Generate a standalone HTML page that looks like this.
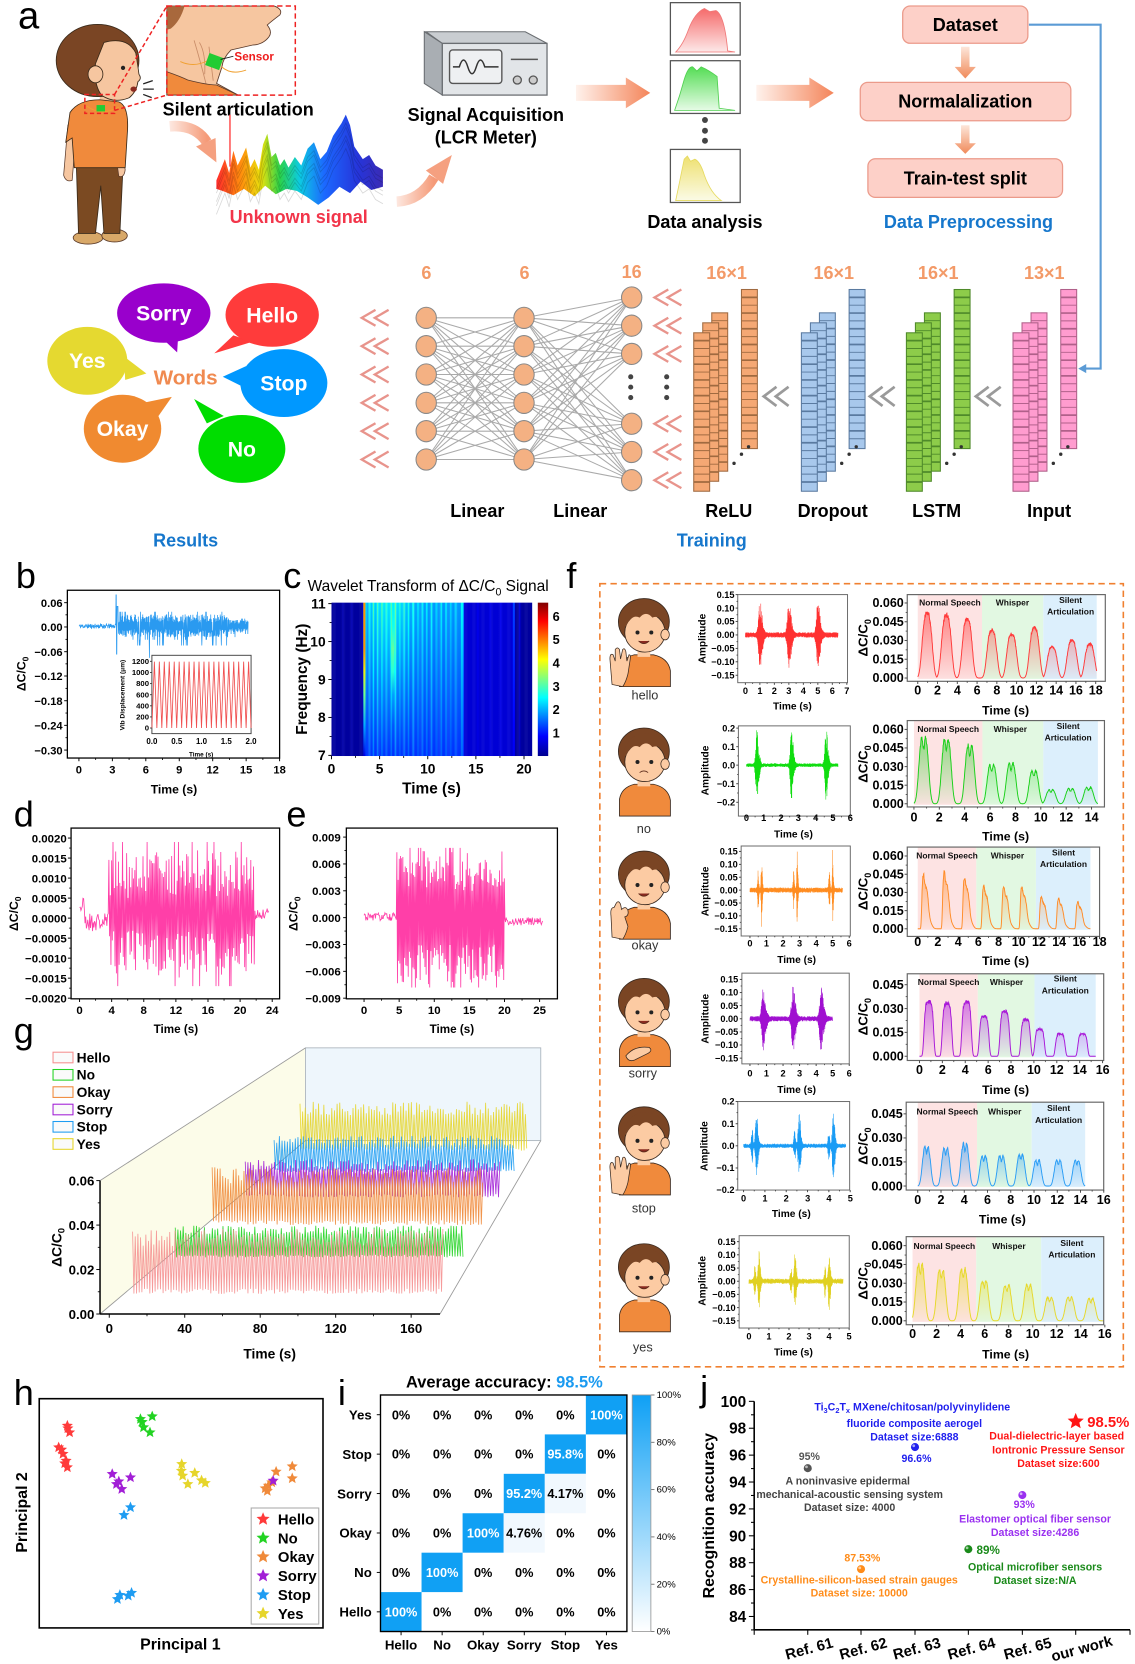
<!DOCTYPE html>
<html><head><meta charset="utf-8">
<style>
html,body{margin:0;padding:0;background:#fff;width:1135px;height:1664px;overflow:hidden;}
svg{display:block;font-family:"Liberation Sans",Arial,sans-serif;}
.b{font-weight:bold}
</style></head><body>
<svg id="S" width="1135" height="1664" viewBox="0 0 1070 1568" preserveAspectRatio="none" xmlns="http://www.w3.org/2000/svg">
<defs id="defs">
<linearGradient id="ag" x1="0" y1="0" x2="1" y2="0"><stop offset="0" stop-color="#fff2ec"/><stop offset="1" stop-color="#f4855a"/></linearGradient>
<linearGradient id="agd" x1="0" y1="0" x2="0" y2="1"><stop offset="0" stop-color="#fde6da"/><stop offset="1" stop-color="#f08a5a"/></linearGradient>
<linearGradient id="agc" x1="0" y1="0" x2="1" y2="0"><stop offset="0" stop-color="#fde8e0"/><stop offset="1" stop-color="#f59a78"/></linearGradient>
<linearGradient id="rain" x1="0" y1="0" x2="1" y2="0"><stop offset="0" stop-color="#ff2020"/><stop offset="0.15" stop-color="#ff8a00"/><stop offset="0.27" stop-color="#e8e000"/><stop offset="0.38" stop-color="#20d040"/><stop offset="0.5" stop-color="#00c8e0"/><stop offset="0.65" stop-color="#1060ff"/><stop offset="0.85" stop-color="#1a2ad8"/><stop offset="1" stop-color="#3020b0"/></linearGradient>
<linearGradient id="thR" x1="0" y1="0" x2="0" y2="1"><stop offset="0" stop-color="#f56a6a"/><stop offset="1" stop-color="#fde8e8"/></linearGradient>
<linearGradient id="thG" x1="0" y1="0" x2="0" y2="1"><stop offset="0" stop-color="#55dd55"/><stop offset="1" stop-color="#e6fbe6"/></linearGradient>
<linearGradient id="thY" x1="0" y1="0" x2="0" y2="1"><stop offset="0" stop-color="#eee070"/><stop offset="1" stop-color="#fbfbe6"/></linearGradient>
<linearGradient id="jet" x1="0" y1="0" x2="0" y2="1"><stop offset="0" stop-color="#800000"/><stop offset="0.12" stop-color="#ff0000"/><stop offset="0.37" stop-color="#ffff00"/><stop offset="0.62" stop-color="#00ffff"/><stop offset="0.87" stop-color="#0000ff"/><stop offset="1" stop-color="#00008f"/></linearGradient>
<linearGradient id="cbi" x1="0" y1="0" x2="0" y2="1"><stop offset="0" stop-color="#0ea0f5"/><stop offset="1" stop-color="#ffffff"/></linearGradient>
<linearGradient id="gR" x1="0" y1="0" x2="0" y2="1"><stop offset="0" stop-color="#ff3a3a" stop-opacity="0.55"/><stop offset="1" stop-color="#ff3a3a" stop-opacity="0.03"/></linearGradient>
<linearGradient id="gG" x1="0" y1="0" x2="0" y2="1"><stop offset="0" stop-color="#20d020" stop-opacity="0.5"/><stop offset="1" stop-color="#20d020" stop-opacity="0.03"/></linearGradient>
<linearGradient id="gO" x1="0" y1="0" x2="0" y2="1"><stop offset="0" stop-color="#ff9030" stop-opacity="0.55"/><stop offset="1" stop-color="#ff9030" stop-opacity="0.03"/></linearGradient>
<linearGradient id="gP" x1="0" y1="0" x2="0" y2="1"><stop offset="0" stop-color="#b020e0" stop-opacity="0.55"/><stop offset="1" stop-color="#b020e0" stop-opacity="0.03"/></linearGradient>
<linearGradient id="gB" x1="0" y1="0" x2="0" y2="1"><stop offset="0" stop-color="#2a9df5" stop-opacity="0.55"/><stop offset="1" stop-color="#2a9df5" stop-opacity="0.03"/></linearGradient>
<linearGradient id="gY" x1="0" y1="0" x2="0" y2="1"><stop offset="0" stop-color="#e8dc30" stop-opacity="0.6"/><stop offset="1" stop-color="#e8dc30" stop-opacity="0.04"/></linearGradient>
</defs>

<!-- ============ PANEL A ============ -->
<text x="17" y="27" font-size="36">a</text>
<g id="boyA"></g>
<!-- small dashed box & connectors -->
<rect x="80" y="89" width="28" height="17.8" fill="none" stroke="#ee2222" stroke-width="1.4" stroke-dasharray="4,2.5"/>
<line x1="108" y1="89" x2="157.3" y2="5.7" stroke="#ee2222" stroke-width="1.4" stroke-dasharray="4,2.5"/>
<line x1="108" y1="104" x2="157.3" y2="89.6" stroke="#ee2222" stroke-width="1.4" stroke-dasharray="4,2.5"/>
<!-- inset -->
<rect x="157.3" y="5.7" width="121.1" height="83.9" fill="#fff"/>
<path d="M157.3,5.7 L258.7,5.7 Q267,9 263.8,14.1 Q256,20 251.9,23.6 Q257,30 253.6,34.6 Q248,42 238.3,42.4 L217.8,47.1 Q210,55 209.3,62.9 L204.2,78.6 L224.6,89.6 L157.3,89.6 Z" fill="#f6c6a0" stroke="#5a3a2a" stroke-width="0.8"/>
<path d="M157.3,5.7 L174,5.7 Q170,20 161,27 L157.3,28 Z" fill="#a8683c"/>
<path d="M183,38 Q189,58 195,82 M197,44 Q199,60 201,76 M188,40 Q194,50 193,70" stroke="#c88c68" fill="none" stroke-width="0.8"/>
<path d="M157.3,67.6 Q170,72 177,75.4 Q195,80 204.2,80.1 L224.6,89.6 L157.3,89.6 Z" fill="#f08a3c" stroke="#5a3a2a" stroke-width="0.8"/>
<path d="M170,58 Q183,64 196,57 M209,63 Q218,71 232,66" stroke="#f0a030" fill="none" stroke-width="0.9"/>
<rect x="195" y="52" width="14" height="12" fill="#22cc33" transform="rotate(20 202 58)"/>
<line x1="208" y1="56" x2="220" y2="53" stroke="#111" stroke-width="0.8"/>
<rect x="157.3" y="5.7" width="121.1" height="83.9" fill="none" stroke="#ee2222" stroke-width="1.4" stroke-dasharray="5,3"/>
<text x="221" y="57" font-size="11" class="b" fill="#ee1c1c">Sensor</text>
<text x="224.5" y="109" font-size="17" class="b" text-anchor="middle">Silent articulation</text>
<!-- curved arrows -->
<path d="M160,119 Q184,117 195,134" fill="none" stroke="url(#agc)" stroke-width="10"/>
<polygon points="203.2,130 184.8,138 204,153" fill="#f5a080"/>
<path d="M374,190 Q396,189 409,167" fill="none" stroke="url(#agc)" stroke-width="10"/>
<polygon points="417.7,173.3 401.5,160.7 426,146" fill="#f5a080"/>
<!-- unknown signal -->
<g id="wave"></g>
<line x1="216.8" y1="108" x2="216.8" y2="157" stroke="#ff4040" stroke-width="1.3"/>
<text x="281.6" y="210" font-size="17" class="b" text-anchor="middle" fill="#f2354a">Unknown signal</text>
<!-- LCR meter -->
<polygon points="401.6,29.9 495.2,29.9 515.7,40.9 417,40.9" fill="#c9cdd1" stroke="#6a6e72" stroke-width="1"/>
<polygon points="400,29.9 417,40.9 417,89.6 400,78.6" fill="#a9aeb3" stroke="#6a6e72" stroke-width="1"/>
<rect x="417" y="40.9" width="98.7" height="48.7" fill="#e2e5e8" stroke="#6a6e72" stroke-width="1.2"/>
<rect x="423.8" y="47.1" width="49.3" height="31.5" rx="3" fill="#eef0f2" stroke="#555" stroke-width="1.3"/>
<path d="M427,63 L433,63 Q437,50 441,63 Q445,76 449,63 Q453,50 457,63 L470,63" fill="none" stroke="#333" stroke-width="1.4"/>
<line x1="481.6" y1="55.9" x2="507.1" y2="55.9" stroke="#555" stroke-width="1.4"/>
<circle cx="487.7" cy="75.4" r="3.8" fill="#ccc" stroke="#555" stroke-width="1.2"/>
<circle cx="502.7" cy="75.4" r="3.8" fill="#ccc" stroke="#555" stroke-width="1.2"/>
<text x="458" y="114" font-size="17" class="b" text-anchor="middle">Signal Acquisition</text>
<text x="458" y="135" font-size="17" class="b" text-anchor="middle">(LCR Meter)</text>
<!-- big arrows -->
<path d="M543,80 L590,80 L590,73 L613,87.5 L590,102 L590,95 L543,95 Z" fill="url(#ag)"/>
<path d="M713,80 L763,80 L763,73 L786,87.5 L763,102 L763,95 L713,95 Z" fill="url(#ag)"/>
<!-- thumbnails -->
<rect x="632" y="2.5" width="65.8" height="49.4" fill="#fff" stroke="#555" stroke-width="1.2"/>
<path d="M637,49 Q644,42 649,28 Q655,12 664,8 L669,11 L675,10 Q683,14 686,48 L693,49 Z" fill="url(#thR)" stroke="#f07878" stroke-width="0.8"/>
<rect x="632" y="57.2" width="65.8" height="49.7" fill="#fff" stroke="#555" stroke-width="1.2"/>
<path d="M636,104 Q641,90 645,75 Q649,62 653,63 L657,67 L661,63 Q668,66 676,72 L678,102 L693,104 Z" fill="url(#thG)" stroke="#50d050" stroke-width="0.8"/>
<circle cx="664.6" cy="113.1" r="2.8" fill="#444"/><circle cx="664.6" cy="123.2" r="2.8" fill="#444"/><circle cx="664.6" cy="132.6" r="2.8" fill="#444"/>
<rect x="632" y="140.8" width="65.8" height="50" fill="#fff" stroke="#555" stroke-width="1.2"/>
<path d="M637,189 Q641,170 645,150 L648,147 L651,152 L655,150 Q660,152 664,165 Q670,182 680,189 Z" fill="url(#thY)" stroke="#e6da60" stroke-width="0.8"/>
<text x="664.6" y="215" font-size="17" class="b" text-anchor="middle">Data analysis</text>
<!-- preprocessing -->
<rect x="851" y="5.7" width="118" height="35.1" rx="7" fill="#fdd0c8" stroke="#eb9a8a" stroke-width="1.2"/>
<text x="910" y="29.3" font-size="17" class="b" text-anchor="middle">Dataset</text>
<path d="M906,44 L914,44 L914,63 L920,63 L910,74 L900,63 L906,63 Z" fill="url(#agd)"/>
<rect x="811" y="77.6" width="198.5" height="36.2" rx="7" fill="#fdd0c8" stroke="#eb9a8a" stroke-width="1.2"/>
<text x="910" y="101.5" font-size="17" class="b" text-anchor="middle">Normalalization</text>
<path d="M906,118 L914,118 L914,135 L920,135 L910,145 L900,135 L906,135 Z" fill="url(#agd)"/>
<rect x="818.2" y="149.6" width="183.5" height="36.4" rx="7" fill="#fdd0c8" stroke="#eb9a8a" stroke-width="1.2"/>
<text x="910" y="173.8" font-size="17" class="b" text-anchor="middle">Train-test split</text>
<text x="913" y="215" font-size="17" class="b" text-anchor="middle" fill="#1677cc">Data Preprocessing</text>
<polyline points="970,23.3 1037.6,23.3 1037.6,347.3 1019,347.3" fill="none" stroke="#5b9bd5" stroke-width="2"/>
<polygon points="1016.5,347.3 1024,343 1024,351.6" fill="#5b9bd5"/>

<!-- row 2 -->
<g font-size="17" class="b" fill="#f39a68" text-anchor="middle">
<text x="402" y="263">6</text><text x="494.5" y="263">6</text><text x="595.5" y="262">16</text>
<text x="685" y="263">16×1</text><text x="786" y="263">16×1</text><text x="884.5" y="263">16×1</text><text x="984.5" y="263">13×1</text>
</g>
<!-- bubbles -->
<polygon points="152,318 168,316 167,332" fill="#9900cc"/>
<ellipse cx="154.4" cy="295" rx="44" ry="28" fill="#9900cc"/>
<polygon points="220,316 238,322 202,333" fill="#ff3b3b"/>
<ellipse cx="256.6" cy="296.7" rx="44" ry="30" fill="#ff3b3b"/>
<polygon points="117,336 118,358 138,352" fill="#e5d930"/>
<ellipse cx="82.3" cy="340" rx="37.7" ry="32" fill="#e5d930"/>
<polygon points="232,345 232,366 210,355" fill="#0098ff"/>
<ellipse cx="267.6" cy="361" rx="41" ry="32" fill="#0098ff"/>
<polygon points="133,380 148,394 162,374" fill="#f08a30"/>
<ellipse cx="115.5" cy="404" rx="36.5" ry="32" fill="#f08a30"/>
<polygon points="195,399 211,392 183,376" fill="#00dd00"/>
<ellipse cx="228" cy="423" rx="41" ry="32" fill="#00dd00"/>
<g font-size="20" class="b" fill="#fff" text-anchor="middle">
<text x="154.4" y="302">Sorry</text><text x="256.6" y="304">Hello</text><text x="82.3" y="347">Yes</text>
<text x="267.6" y="368">Stop</text><text x="115.5" y="411">Okay</text><text x="228" y="430">No</text>
</g>
<text x="175" y="362.5" font-size="19.5" class="b" fill="#f08a50" text-anchor="middle">Words</text>
<g id="net"></g>
<g font-size="17" class="b" text-anchor="middle">
<text x="450" y="487">Linear</text><text x="547" y="487">Linear</text><text x="687" y="487">ReLU</text>
<text x="785" y="487">Dropout</text><text x="883" y="487">LSTM</text><text x="989" y="487">Input</text>
</g>
<text x="175" y="515" font-size="17" class="b" fill="#1677cc" text-anchor="middle">Results</text>
<text x="671" y="515" font-size="17" class="b" fill="#1677cc" text-anchor="middle">Training</text>

<!-- ============ PANEL B ============ -->
<text x="15" y="554" font-size="34">b</text>
<rect x="63.5" y="556.2" width="200.1" height="158.1" fill="#fff" stroke="#000" stroke-width="1.2"/>
<g id="pb"></g>
<g font-size="10.5" class="b" text-anchor="end">
<text x="59" y="571.9">0.06</text><text x="59" y="594.8">0.00</text><text x="59" y="618.1">−0.06</text><text x="59" y="641">−0.12</text><text x="59" y="664.3">−0.18</text><text x="59" y="687.5">−0.24</text><text x="59" y="710.8">−0.30</text>
</g>
<g font-size="10.5" class="b" text-anchor="middle">
<text x="74.4" y="729">0</text><text x="105.9" y="729">3</text><text x="137.5" y="729">6</text><text x="169" y="729">9</text><text x="200.5" y="729">12</text><text x="232" y="729">15</text><text x="263.6" y="729">18</text>
</g>
<text x="164" y="747.5" font-size="11.5" class="b" text-anchor="middle">Time (s)</text>
<text transform="translate(24,635) rotate(-90)" font-size="11.5" class="b" text-anchor="middle">ΔC/C<tspan dy="3" font-size="8">0</tspan></text>
<rect x="143.2" y="617.5" width="93.5" height="73.8" fill="#fff" stroke="#444" stroke-width="0.9"/>
<g id="pbi"></g>
<g font-size="7.3" class="b" text-anchor="end">
<text x="140.5" y="625.7">1200</text><text x="140.5" y="636.2">1000</text><text x="140.5" y="646.6">800</text><text x="140.5" y="657.1">600</text><text x="140.5" y="667.6">400</text><text x="140.5" y="678">200</text><text x="140.5" y="688.5">0</text>
</g>
<g font-size="7.5" class="b" text-anchor="middle">
<text x="143.2" y="701">0.0</text><text x="166.6" y="701">0.5</text><text x="190" y="701">1.0</text><text x="213.3" y="701">1.5</text><text x="236.7" y="701">2.0</text>
</g>
<text x="189.6" y="713" font-size="6" class="b" text-anchor="middle">Time (s)</text>
<text transform="translate(117.5,655) rotate(-90)" font-size="6.2" class="b" text-anchor="middle">Vib Displacement (μm)</text>

<!-- ============ PANEL C ============ -->
<text x="267" y="554" font-size="34">c</text>
<text x="290" y="557" font-size="14.6">Wavelet Transform of ΔC/C<tspan dy="4" font-size="10">0</tspan><tspan dy="-4"> Signal</tspan></text>
<g id="hm"></g>
<rect x="507" y="567.9" width="9.8" height="144.5" fill="url(#jet)"/>
<g font-size="12" class="b">
<text x="521" y="585">6</text><text x="521" y="607">5</text><text x="521" y="629">4</text><text x="521" y="651">3</text><text x="521" y="673">2</text><text x="521" y="695">1</text>
</g>
<g font-size="13" class="b" text-anchor="end">
<text x="307" y="573.5">11</text><text x="307" y="609">10</text><text x="307" y="645">9</text><text x="307" y="680.5">8</text><text x="307" y="716">7</text>
</g>
<g font-size="13" class="b" text-anchor="middle">
<text x="312.5" y="729">0</text><text x="357.9" y="729">5</text><text x="403.3" y="729">10</text><text x="448.6" y="729">15</text><text x="494" y="729">20</text>
</g>
<text x="406.8" y="747.5" font-size="14.5" class="b" text-anchor="middle">Time (s)</text>
<text transform="translate(289.5,640) rotate(-90)" font-size="14.5" class="b" text-anchor="middle">Frequency (Hz)</text>

<!-- ============ PANEL D ============ -->
<text x="13" y="779" font-size="34">d</text>
<rect x="67" y="780.3" width="196.6" height="160.9" fill="#fff" stroke="#000" stroke-width="1.2"/>
<g id="pd"></g>
<g font-size="10.8" class="b" text-anchor="end">
<text x="62.9" y="793.7">0.0020</text><text x="62.9" y="812.6">0.0015</text><text x="62.9" y="831.4">0.0010</text><text x="62.9" y="850.3">0.0005</text><text x="62.9" y="869.2">0.0000</text><text x="62.9" y="888">−0.0005</text><text x="62.9" y="906.9">−0.0010</text><text x="62.9" y="925.7">−0.0015</text><text x="62.9" y="944.6">−0.0020</text>
</g>
<g font-size="10.8" class="b" text-anchor="middle">
<text x="75" y="955.5">0</text><text x="105.3" y="955.5">4</text><text x="135.5" y="955.5">8</text><text x="165.8" y="955.5">12</text><text x="196.1" y="955.5">16</text><text x="226.4" y="955.5">20</text><text x="256.6" y="955.5">24</text>
</g>
<text x="165.8" y="973.5" font-size="11" class="b" text-anchor="middle">Time (s)</text>
<text transform="translate(17,861) rotate(-90)" font-size="11.5" class="b" text-anchor="middle">ΔC/C<tspan dy="3" font-size="8">0</tspan></text>

<!-- ============ PANEL E ============ -->
<text x="270" y="779" font-size="34">e</text>
<rect x="326.5" y="780.3" width="199" height="160.9" fill="#fff" stroke="#000" stroke-width="1.2"/>
<g id="pe"></g>
<g font-size="10.8" class="b" text-anchor="end">
<text x="321.2" y="792.8">0.009</text><text x="321.2" y="818.1">0.006</text><text x="321.2" y="843.4">0.003</text><text x="321.2" y="868.7">0.000</text><text x="321.2" y="894">−0.003</text><text x="321.2" y="919.3">−0.006</text><text x="321.2" y="944.6">−0.009</text>
</g>
<g font-size="10.8" class="b" text-anchor="middle">
<text x="343.2" y="955.5">0</text><text x="376.3" y="955.5">5</text><text x="409.4" y="955.5">10</text><text x="442.5" y="955.5">15</text><text x="475.6" y="955.5">20</text><text x="508.7" y="955.5">25</text>
</g>
<text x="426" y="973.5" font-size="11" class="b" text-anchor="middle">Time (s)</text>
<text transform="translate(280.5,861) rotate(-90)" font-size="11.5" class="b" text-anchor="middle">ΔC/C<tspan dy="3" font-size="8">0</tspan></text>

<!-- ============ PANEL F ============ -->
<text x="534" y="554" font-size="34">f</text>
<rect x="565.5" y="550" width="493.5" height="738" fill="none" stroke="#f08030" stroke-width="1.5" stroke-dasharray="6,4"/>
<g id="pf"></g>
<g font-size="12" fill="#333" text-anchor="middle">
<text x="608" y="659">hello</text><text x="607" y="785">no</text><text x="608" y="894.5">okay</text><text x="606" y="1015.5">sorry</text><text x="607" y="1142.5">stop</text><text x="606" y="1273.5">yes</text>
</g>
<!-- mid tick labels -->
<g font-size="8.7" class="b" text-anchor="end">
<text x="692.5" y="563.3">0.15</text><text x="692.5" y="576">0.10</text><text x="692.5" y="588.6">0.05</text><text x="692.5" y="601.3">0.00</text><text x="692.5" y="614">−0.05</text><text x="692.5" y="626.6">−0.10</text><text x="692.5" y="639.3">−0.15</text>
<text x="693" y="689.1">0.2</text><text x="693" y="706.6">0.1</text><text x="693" y="724">0.0</text><text x="693" y="741.5">−0.1</text><text x="693" y="759">−0.2</text>
<text x="695.5" y="805.3">0.15</text><text x="695.5" y="817.5">0.10</text><text x="695.5" y="829.6">0.05</text><text x="695.5" y="841.8">0.00</text><text x="695.5" y="853.9">−0.05</text><text x="695.5" y="866">−0.10</text><text x="695.5" y="878.2">−0.15</text>
<text x="696" y="925.9">0.15</text><text x="696" y="938.3">0.10</text><text x="696" y="950.6">0.05</text><text x="696" y="963">0.00</text><text x="696" y="975.4">−0.05</text><text x="696" y="987.7">−0.10</text><text x="696" y="1000.1">−0.15</text>
<text x="692.5" y="1041">0.2</text><text x="692.5" y="1061.9">0.1</text><text x="692.5" y="1082.7">0.0</text><text x="692.5" y="1103.6">−0.1</text><text x="692.5" y="1124.4">−0.2</text>
<text x="693.5" y="1173">0.15</text><text x="693.5" y="1185.4">0.10</text><text x="693.5" y="1197.9">0.05</text><text x="693.5" y="1210.3">0.00</text><text x="693.5" y="1222.7">−0.05</text><text x="693.5" y="1235.2">−0.10</text><text x="693.5" y="1247.6">−0.15</text>
</g>
<g font-size="8.7" class="b" text-anchor="middle">
<text x="702.7" y="654">0</text><text x="716.4" y="654">1</text><text x="730" y="654">2</text><text x="743.7" y="654">3</text><text x="757.3" y="654">4</text><text x="771" y="654">5</text><text x="784.7" y="654">6</text><text x="798.3" y="654">7</text>
<text x="703.7" y="773.5">0</text><text x="720" y="773.5">1</text><text x="736.3" y="773.5">2</text><text x="752.6" y="773.5">3</text><text x="769" y="773.5">4</text><text x="785.3" y="773.5">5</text><text x="801.6" y="773.5">6</text>
<text x="707" y="892">0</text><text x="722.6" y="892">1</text><text x="738.2" y="892">2</text><text x="753.8" y="892">3</text><text x="769.4" y="892">4</text><text x="785" y="892">5</text><text x="800.6" y="892">6</text>
<text x="707" y="1014.5">0</text><text x="722.6" y="1014.5">1</text><text x="738.2" y="1014.5">2</text><text x="753.8" y="1014.5">3</text><text x="769.4" y="1014.5">4</text><text x="785" y="1014.5">5</text><text x="800.6" y="1014.5">6</text>
<text x="701" y="1132">0</text><text x="721.1" y="1132">1</text><text x="741.2" y="1132">2</text><text x="761.4" y="1132">3</text><text x="781.5" y="1132">4</text><text x="801.6" y="1132">5</text>
<text x="706" y="1262">0</text><text x="724.9" y="1262">1</text><text x="743.8" y="1262">2</text><text x="762.7" y="1262">3</text><text x="781.6" y="1262">4</text><text x="800.5" y="1262">5</text>
</g>
<g font-size="9.6" class="b" text-anchor="middle">
<text x="747" y="668.5">Time (s)</text><text x="748" y="789">Time (s)</text><text x="751" y="907.5">Time (s)</text><text x="751" y="1030">Time (s)</text><text x="746" y="1147">Time (s)</text><text x="748" y="1277.5">Time (s)</text>
<text transform="translate(665,601.8) rotate(-90)">Amplitude</text>
<text transform="translate(668,726) rotate(-90)">Amplitude</text>
<text transform="translate(668,840) rotate(-90)">Amplitude</text>
<text transform="translate(668,960) rotate(-90)">Amplitude</text>
<text transform="translate(667,1080) rotate(-90)">Amplitude</text>
<text transform="translate(665,1207) rotate(-90)">Amplitude</text>
</g>
<!-- right tick labels -->
<g font-size="11.8" class="b" text-anchor="end">
<text x="852" y="572.2">0.060</text><text x="852" y="589.9">0.045</text><text x="852" y="607.5">0.030</text><text x="852" y="625.2">0.015</text><text x="852" y="642.9">0.000</text>
<text x="852" y="691.3">0.060</text><text x="852" y="708.8">0.045</text><text x="852" y="726.4">0.030</text><text x="852" y="743.9">0.015</text><text x="852" y="761.4">0.000</text>
<text x="852" y="810.6">0.060</text><text x="852" y="827.8">0.045</text><text x="852" y="844.9">0.030</text><text x="852" y="862.1">0.015</text><text x="852" y="879.2">0.000</text>
<text x="852" y="931.9">0.045</text><text x="852" y="954.4">0.030</text><text x="852" y="976.8">0.015</text><text x="852" y="999.3">0.000</text>
<text x="851" y="1053.6">0.045</text><text x="851" y="1076.3">0.030</text><text x="851" y="1098.9">0.015</text><text x="851" y="1121.6">0.000</text>
<text x="851" y="1177.8">0.060</text><text x="851" y="1195.5">0.045</text><text x="851" y="1213.2">0.030</text><text x="851" y="1230.9">0.015</text><text x="851" y="1248.6">0.000</text>
</g>
<g font-size="11.8" class="b" text-anchor="middle">
<text x="865.2" y="654.5">0</text><text x="883.8" y="654.5">2</text><text x="902.5" y="654.5">4</text><text x="921.1" y="654.5">6</text><text x="939.8" y="654.5">8</text><text x="958.4" y="654.5">10</text><text x="977" y="654.5">12</text><text x="995.7" y="654.5">14</text><text x="1014.3" y="654.5">16</text><text x="1033" y="654.5">18</text>
<text x="861.6" y="774">0</text><text x="885.5" y="774">2</text><text x="909.5" y="774">4</text><text x="933.4" y="774">6</text><text x="957.3" y="774">8</text><text x="981.2" y="774">10</text><text x="1005.2" y="774">12</text><text x="1029.1" y="774">14</text>
<text x="865.2" y="891.5">0</text><text x="884.2" y="891.5">2</text><text x="903.3" y="891.5">4</text><text x="922.3" y="891.5">6</text><text x="941.4" y="891.5">8</text><text x="960.4" y="891.5">10</text><text x="979.5" y="891.5">12</text><text x="998.5" y="891.5">14</text><text x="1017.6" y="891.5">16</text><text x="1036.6" y="891.5">18</text>
<text x="866.8" y="1012">0</text><text x="888.4" y="1012">2</text><text x="910" y="1012">4</text><text x="931.6" y="1012">6</text><text x="953.1" y="1012">8</text><text x="974.7" y="1012">10</text><text x="996.3" y="1012">12</text><text x="1017.9" y="1012">14</text><text x="1039.5" y="1012">16</text>
<text x="865.2" y="1134.5">0</text><text x="887.1" y="1134.5">2</text><text x="909" y="1134.5">4</text><text x="930.9" y="1134.5">6</text><text x="952.9" y="1134.5">8</text><text x="974.8" y="1134.5">10</text><text x="996.7" y="1134.5">12</text><text x="1018.6" y="1134.5">14</text><text x="1040.5" y="1134.5">16</text>
<text x="860.3" y="1261">0</text><text x="883" y="1261">2</text><text x="905.6" y="1261">4</text><text x="928.3" y="1261">6</text><text x="950.9" y="1261">8</text><text x="973.6" y="1261">10</text><text x="996.2" y="1261">12</text><text x="1018.9" y="1261">14</text><text x="1041.5" y="1261">16</text>
</g>
<g font-size="11.6" class="b" text-anchor="middle">
<text x="948" y="673.5">Time (s)</text><text x="948" y="792">Time (s)</text><text x="948" y="909.5">Time (s)</text><text x="948" y="1031">Time (s)</text><text x="945" y="1153">Time (s)</text><text x="948" y="1280">Time (s)</text>
</g>
<g font-size="12.5" class="b" text-anchor="middle">
<text transform="translate(818,601) rotate(-90)">ΔC/C<tspan dy="3" font-size="8.5">0</tspan></text>
<text transform="translate(818,720) rotate(-90)">ΔC/C<tspan dy="3" font-size="8.5">0</tspan></text>
<text transform="translate(818,840) rotate(-90)">ΔC/C<tspan dy="3" font-size="8.5">0</tspan></text>
<text transform="translate(818,958) rotate(-90)">ΔC/C<tspan dy="3" font-size="8.5">0</tspan></text>
<text transform="translate(818,1080) rotate(-90)">ΔC/C<tspan dy="3" font-size="8.5">0</tspan></text>
<text transform="translate(818,1207) rotate(-90)">ΔC/C<tspan dy="3" font-size="8.5">0</tspan></text>
</g>
<g id="pfl" font-size="8" class="b" fill="#111" text-anchor="middle">
<text x="895.5" y="570.5">Normal Speech</text><text x="954.5" y="570.5">Whisper</text><text x="1009.3" y="568">Silent</text><text x="1009.3" y="579">Articulation</text>
<text x="893.9" y="690">Normal Speech</text><text x="952.5" y="690">Whisper</text><text x="1007" y="687">Silent</text><text x="1007" y="698">Articulation</text>
<text x="892.8" y="809">Normal Speech</text><text x="949.8" y="809">Whisper</text><text x="1002.6" y="806">Silent</text><text x="1002.6" y="817">Articulation</text>
<text x="894.3" y="928">Normal Speech</text><text x="948.9" y="928">Whisper</text><text x="1004.3" y="925">Silent</text><text x="1004.3" y="936">Articulation</text>
<text x="893.1" y="1050">Normal Speech</text><text x="947.2" y="1050">Whisper</text><text x="998" y="1047">Silent</text><text x="998" y="1058">Articulation</text>
<text x="890.3" y="1177">Normal Speech</text><text x="951.2" y="1177">Whisper</text><text x="1010.5" y="1174">Silent</text><text x="1010.5" y="1185">Articulation</text>
</g>

<!-- ============ PANEL G ============ -->
<text x="13" y="983" font-size="34">g</text>
<g id="pgl">
<rect x="50" y="991.5" width="18.8" height="10" fill="#fafafa" stroke="#f59090" stroke-width="1"/>
<rect x="50" y="1007.8" width="18.8" height="10" fill="#fafafa" stroke="#22d322" stroke-width="1"/>
<rect x="50" y="1024.1" width="18.8" height="10" fill="#fafafa" stroke="#f08a3a" stroke-width="1"/>
<rect x="50" y="1040.5" width="18.8" height="10" fill="#fafafa" stroke="#a21fd6" stroke-width="1"/>
<rect x="50" y="1056.8" width="18.8" height="10" fill="#fafafa" stroke="#1e9cf2" stroke-width="1"/>
<rect x="50" y="1073" width="18.8" height="10" fill="#fafafa" stroke="#e6d52a" stroke-width="1"/>
</g>
<g font-size="13" class="b">
<text x="72.3" y="1001">Hello</text><text x="72.3" y="1017.3">No</text><text x="72.3" y="1033.6">Okay</text><text x="72.3" y="1050">Sorry</text><text x="72.3" y="1066.3">Stop</text><text x="72.3" y="1082.5">Yes</text>
</g>
<polygon points="94.3,1112.5 288,987.4 288,1074.8 94.3,1238.2" fill="#fcfce9"/>
<rect x="288" y="987.4" width="221.8" height="87.4" fill="#eef6fc" stroke="#a9b2bb" stroke-width="0.8"/>
<line x1="94.3" y1="1112.5" x2="288" y2="987.4" stroke="#999" stroke-width="0.8"/>
<line x1="94.3" y1="1238.2" x2="288" y2="1074.8" stroke="#999" stroke-width="0.8"/>
<line x1="414.8" y1="1238.2" x2="509.8" y2="1074.8" stroke="#999" stroke-width="0.8"/>
<g id="pg"></g>
<g font-size="12.5" class="b" text-anchor="end">
<text x="89" y="1117">0.06</text><text x="89" y="1158.9">0.04</text><text x="89" y="1200.8">0.02</text><text x="89" y="1242.7">0.00</text>
</g>
<g font-size="12.5" class="b" text-anchor="middle">
<text x="103" y="1256">0</text><text x="174.2" y="1256">40</text><text x="245.3" y="1256">80</text><text x="316.5" y="1256">120</text><text x="387.6" y="1256">160</text>
</g>
<text x="254.2" y="1280" font-size="13" class="b" text-anchor="middle">Time (s)</text>
<text transform="translate(58,1175.4) rotate(-90)" font-size="13" class="b" text-anchor="middle">ΔC/C<tspan dy="3" font-size="9">0</tspan></text>

<!-- ============ PANEL H ============ -->
<text x="13" y="1324" font-size="34">h</text>
<rect x="37" y="1318" width="267.5" height="216" fill="#fff" stroke="#000" stroke-width="1.5"/>
<g id="ph"></g>
<rect x="236.8" y="1421" width="63.7" height="109.4" fill="#fff" stroke="#aaa" stroke-width="1"/>
<g id="phl"></g>
<g font-size="14" class="b">
<text x="262" y="1436.5">Hello</text><text x="262" y="1454.3">No</text><text x="262" y="1472">Okay</text><text x="262" y="1489.9">Sorry</text><text x="262" y="1507.8">Stop</text><text x="262" y="1525.4">Yes</text>
</g>
<text x="170" y="1554.5" font-size="15" class="b" text-anchor="middle">Principal 1</text>
<text transform="translate(25.5,1425.2) rotate(-90)" font-size="15" class="b" text-anchor="middle">Principal 2</text>

<!-- ============ PANEL I ============ -->
<text x="318.5" y="1324" font-size="34">i</text>
<text x="475.5" y="1307.5" font-size="15.5" class="b" text-anchor="middle">Average accuracy: <tspan fill="#1a9af0">98.5%</tspan></text>
<rect x="358.7" y="1314.5" width="232.3" height="222.9" fill="#fff"/>
<rect x="552.3" y="1314.5" width="38.7" height="37.15" fill="#10a0f4"/>
<rect x="513.6" y="1351.65" width="38.7" height="37.15" fill="#12a1f4"/>
<rect x="474.9" y="1388.8" width="38.7" height="37.15" fill="#12a1f4"/>
<rect x="436.1" y="1425.95" width="38.7" height="37.15" fill="#10a0f4"/>
<rect x="397.4" y="1463.1" width="38.7" height="37.15" fill="#10a0f4"/>
<rect x="358.7" y="1500.25" width="38.7" height="37.15" fill="#10a0f4"/>
<rect x="513.6" y="1388.8" width="38.7" height="37.15" fill="#f1f8fe"/>
<rect x="474.9" y="1425.95" width="38.7" height="37.15" fill="#f1f8fe"/>
<rect x="358.7" y="1314.5" width="232.3" height="222.9" fill="none" stroke="#000" stroke-width="1.3"/>
<g id="pi"></g>
<g font-size="12" class="b" text-anchor="middle">
<text x="378.1" y="1337.4">0%</text><text x="416.8" y="1337.4">0%</text><text x="455.5" y="1337.4">0%</text><text x="494.2" y="1337.4">0%</text><text x="533" y="1337.4">0%</text><text x="571.7" y="1337.4" fill="#fff">100%</text>
<text x="378.1" y="1374.5">0%</text><text x="416.8" y="1374.5">0%</text><text x="455.5" y="1374.5">0%</text><text x="494.2" y="1374.5">0%</text><text x="533" y="1374.5" fill="#fff">95.8%</text><text x="571.7" y="1374.5">0%</text>
<text x="378.1" y="1411.7">0%</text><text x="416.8" y="1411.7">0%</text><text x="455.5" y="1411.7">0%</text><text x="494.2" y="1411.7" fill="#fff">95.2%</text><text x="533" y="1411.7">4.17%</text><text x="571.7" y="1411.7">0%</text>
<text x="378.1" y="1448.8">0%</text><text x="416.8" y="1448.8">0%</text><text x="455.5" y="1448.8" fill="#fff">100%</text><text x="494.2" y="1448.8">4.76%</text><text x="533" y="1448.8">0%</text><text x="571.7" y="1448.8">0%</text>
<text x="378.1" y="1486">0%</text><text x="416.8" y="1486" fill="#fff">100%</text><text x="455.5" y="1486">0%</text><text x="494.2" y="1486">0%</text><text x="533" y="1486">0%</text><text x="571.7" y="1486">0%</text>
<text x="378.1" y="1523.1" fill="#fff">100%</text><text x="416.8" y="1523.1">0%</text><text x="455.5" y="1523.1">0%</text><text x="494.2" y="1523.1">0%</text><text x="533" y="1523.1">0%</text><text x="571.7" y="1523.1">0%</text>
</g>
<g font-size="12.5" class="b" text-anchor="end">
<text x="350.5" y="1337.6">Yes</text><text x="350.5" y="1374.7">Stop</text><text x="350.5" y="1411.9">Sorry</text><text x="350.5" y="1449">Okay</text><text x="350.5" y="1486.2">No</text><text x="350.5" y="1523.3">Hello</text>
</g>
<g font-size="12.5" class="b" text-anchor="middle">
<text x="378.1" y="1554.5">Hello</text><text x="416.8" y="1554.5">No</text><text x="455.5" y="1554.5">Okay</text><text x="494.2" y="1554.5">Sorry</text><text x="533" y="1554.5">Stop</text><text x="571.7" y="1554.5">Yes</text>
</g>
<rect x="596" y="1314.5" width="17.6" height="222.9" fill="url(#cbi)" stroke="#999" stroke-width="0.8"/>
<g font-size="9">
<text x="619" y="1317.5">100%</text><text x="619" y="1362">80%</text><text x="619" y="1406.6">60%</text><text x="619" y="1451.2">40%</text><text x="619" y="1495.8">20%</text><text x="619" y="1540.4">0%</text>
</g>

<!-- ============ PANEL J ============ -->
<text x="660" y="1320" font-size="34">j</text>
<g id="pj"></g>
<g font-size="14.5" class="b" text-anchor="end">
<text x="703.5" y="1325.7">100</text><text x="703.5" y="1351">98</text><text x="703.5" y="1376.4">96</text><text x="703.5" y="1401.7">94</text><text x="703.5" y="1427.1">92</text><text x="703.5" y="1452.4">90</text><text x="703.5" y="1477.7">88</text><text x="703.5" y="1503.1">86</text><text x="703.5" y="1528.4">84</text>
</g>
<text transform="translate(673,1428.3) rotate(-90)" font-size="15" class="b" text-anchor="middle">Recognition accuracy</text>
<g font-size="14" class="b" text-anchor="middle">
<text transform="translate(764,1558) rotate(-15)">Ref. 61</text>
<text transform="translate(815,1558) rotate(-15)">Ref. 62</text>
<text transform="translate(865.5,1558) rotate(-15)">Ref. 63</text>
<text transform="translate(917,1558) rotate(-15)">Ref. 64</text>
<text transform="translate(970,1558) rotate(-15)">Ref. 65</text>
<text transform="translate(1021,1558) rotate(-15)">our work</text>
</g>
<g font-size="10" class="b" text-anchor="middle">
<text x="860" y="1329" fill="#1f1fee">Ti<tspan dy="2.5" font-size="7">3</tspan><tspan dy="-2.5">C</tspan><tspan dy="2.5" font-size="7">2</tspan><tspan dy="-2.5">T</tspan><tspan dy="2.5" font-size="7">x</tspan><tspan dy="-2.5"> MXene/chitosan/polyvinylidene</tspan></text>
<text x="862" y="1344.5" fill="#1f1fee">fluoride composite aerogel</text>
<text x="862" y="1357.5" fill="#1f1fee">Dataset size:6888</text>
<text x="864" y="1377.5" fill="#1f1fee">96.6%</text>
<text x="763" y="1376" fill="#555">95%</text>
<text x="799.2" y="1398.8" fill="#444">A noninvasive epidermal</text>
<text x="801" y="1411.5" fill="#444">mechanical-acoustic sensing system</text>
<text x="801" y="1424" fill="#444">Dataset size: 4000</text>
<text x="813" y="1471.5" fill="#ff8c1a">87.53%</text>
<text x="810" y="1492.2" fill="#ff8c1a">Crystalline-silicon-based strain gauges</text>
<text x="810" y="1504.5" fill="#ff8c1a">Dataset size: 10000</text>
<text x="975.8" y="1479.9" fill="#1a8a1a">Optical microfiber sensors</text>
<text x="975.8" y="1492.5" fill="#1a8a1a">Dataset size:N/A</text>
<text x="965.6" y="1421.2" fill="#9a30f0">93%</text>
<text x="975.8" y="1434.9" fill="#9a30f0">Elastomer optical fiber sensor</text>
<text x="975.8" y="1447.5" fill="#9a30f0">Dataset size:4286</text>
<text x="996.2" y="1356.5" fill="#ff1515">Dual-dielectric-layer based</text>
<text x="997.8" y="1369.5" fill="#ff1515">Iontronic Pressure Sensor</text>
<text x="997.8" y="1382.3" fill="#ff1515">Dataset size:600</text>
</g>
<text x="920.6" y="1464.5" font-size="11" class="b" fill="#1a8a1a">89%</text>
<text x="1025" y="1344.5" font-size="14" class="b" fill="#ff1515">98.5%</text>
</svg>

<script>
(function(){
const NS='http://www.w3.org/2000/svg';
function E(p,t,a){const e=document.createElementNS(NS,t);for(const k in a)e.setAttribute(k,a[k]);p.appendChild(e);return e;}
function G(id){return document.getElementById(id);}
function rnd(s){return function(){s|=0;s=s+0x6D2B79F5|0;let t=Math.imul(s^s>>>15,1|s);t=t+Math.imul(t^t>>>7,61|t)^t;return((t^t>>>14)>>>0)/4294967296;};}
function P(pts){return 'M'+pts.map(p=>p[0].toFixed(2)+','+p[1].toFixed(2)).join('L');}
function L(g,x1,y1,x2,y2,c,w){E(g,'line',{x1:x1,y1:y1,x2:x2,y2:y2,stroke:c||'#000','stroke-width':w||1});}
function yt(g,x,ys,len,minor,c){c=c||'#000';ys.forEach(y=>L(g,x,y,x-len,y,c,0.9));if(minor)for(let i=0;i<ys.length-1;i++){const m=(ys[i]+ys[i+1])/2;L(g,x,m,x-len*0.6,m,c,0.8);}}
function xt(g,y,xs,len,minor,c){c=c||'#000';xs.forEach(x=>L(g,x,y,x,y+len,c,0.9));if(minor)for(let i=0;i<xs.length-1;i++){const m=(xs[i]+xs[i+1])/2;L(g,m,y,m,y+len*0.6,c,0.8);}}
function ar(a,s,n){const r=[];for(let i=0;i<n;i++)r.push(a+s*i);return r;}

/* ---- boy in panel a ---- */
(function(){const g=G('boyA');
E(g,'ellipse',{cx:83,cy:224,rx:14,ry:6,fill:'#d8a868',stroke:'#5a3a2a','stroke-width':0.8});
E(g,'ellipse',{cx:108,cy:222,rx:12,ry:6,fill:'#d8a868',stroke:'#5a3a2a','stroke-width':0.8});
E(g,'path',{d:'M72,156 L116,156 L113,220 L98,220 L95,175 L90,220 L74,220 Z',fill:'#7b4a22',stroke:'#3a2a1a','stroke-width':0.8});
E(g,'path',{d:'M64,118 L60,165 Q62,172 68,170 L72,122 Z',fill:'#f6c6a0',stroke:'#5a3a2a','stroke-width':0.7});
E(g,'path',{d:'M112,118 L118,160 Q117,168 112,166 L106,124 Z',fill:'#f6c6a0',stroke:'#5a3a2a','stroke-width':0.7});
E(g,'rect',{x:94,y:84,width:16,height:14,fill:'#f6c6a0'});
E(g,'path',{d:'M66,106 Q74,94 94,94 L112,96 Q122,100 120,126 L118,158 L70,158 L68,130 L62,134 Z',fill:'#f08a3c',stroke:'#3a2a1a','stroke-width':0.8});
E(g,'ellipse',{cx:92,cy:57,rx:39,ry:34,fill:'#7a4524',stroke:'#3a2a1a','stroke-width':0.8});
E(g,'path',{d:'M98,40 Q120,34 128,50 Q130,62 131,70 Q134,74 130,77 Q129,86 122,92 Q108,98 96,90 Q88,80 90,60 Z',fill:'#f6c6a0',stroke:'#3a2a1a','stroke-width':0.8});
E(g,'ellipse',{cx:90,cy:70,rx:7,ry:8,fill:'#f6c6a0',stroke:'#3a2a1a','stroke-width':0.8});
E(g,'circle',{cx:116,cy:64,r:2,fill:'#222'});
E(g,'ellipse',{cx:126,cy:84,rx:3,ry:2.5,fill:'#8a2a20'});
E(g,'path',{d:'M82,100 Q95,110 112,101',fill:'none',stroke:'#f0a030','stroke-width':1});
E(g,'rect',{x:91,y:99,width:8,height:6,fill:'#22cc33'});
E(g,'path',{d:'M135,79 L144,76 M135,84 L145,84 M135,89 L143,92',stroke:'#222','stroke-width':1.2});
})();

/* ---- unknown signal wave ---- */
(function(){const g=G('wave');
const top=[[204,170],[208,160],[212,150],[216,163],[220,142],[224,156],[228,148],[232,139],[236,158],[240,150],[244,160],[248,136],[252,126],[256,148],[260,144],[264,156],[268,150],[272,158],[278,148],[284,156],[290,140],[296,134],[302,150],[308,143],[314,128],[318,122],[322,116],[326,108],[330,118],[334,138],[338,144],[342,150],[348,146],[354,156],[361,160]];
const bot=[[361,176],[350,179],[340,171],[330,182],[320,176],[310,186],[300,193],[290,186],[280,180],[270,178],[260,183],[250,175],[240,185],[230,178],[220,184],[210,180],[204,178]];
E(g,'path',{d:P(top.concat(bot))+'Z',fill:'url(#rain)',opacity:0.95});
for(let k=1;k<6;k++){const pts=top.map(p=>[p[0],p[1]+k*6+(k%2)*2]);E(g,'path',{d:P(pts),fill:'none',stroke:'#000','stroke-opacity':0.15,'stroke-width':0.8});}
})();

/* ---- network ---- */
(function(){const g=G('net');
const c1=[299.5,326.2,352.9,379.6,406.3,433],c3=[280.3,306.9,333.5,399.3,425.9,452.5];
const X1=401.8,X2=494,X3=595.5;
c1.forEach(a=>c1.forEach(b=>L(g,X1,a,X2,b,'#aaa',1)));
c1.forEach(a=>c3.forEach(b=>L(g,X2,a,X3,b,'#aaa',1)));
[[X1,c1],[X2,c1],[X3,c3]].forEach(([x,ys])=>ys.forEach(y=>E(g,'ellipse',{cx:x,cy:y,rx:9.6,ry:10,fill:'#f4b183',stroke:'#888','stroke-width':1})));
[355.1,364.8,374.6].forEach(y=>{E(g,'circle',{cx:594.6,cy:y,r:2.4,fill:'#444'});E(g,'circle',{cx:628.5,cy:y,r:2.4,fill:'#444'});});
function chev(x,y,c,h,w,sw){for(let k=0;k<2;k++){const xx=x+k*w*0.95;E(g,'polyline',{points:(xx+w)+','+(y-h)+' '+xx+','+y+' '+(xx+w)+','+(y+h),fill:'none',stroke:c,'stroke-width':sw});}}
c1.forEach(y=>chev(341,y,'#e8948c',7.5,13,2.2));
c3.forEach(y=>chev(617,y,'#e8948c',7.5,13,2.2));
[720,820,920].forEach(x=>chev(x,373.5,'#9a9a9a',9,12,2.6));
function col(x,y1,y2,f,s){E(g,'rect',{x:x,y:y1,width:15,height:y2-y1,fill:f,stroke:s,'stroke-width':1});for(let y=y1+7.4;y<y2-2;y+=7.4)L(g,x,y,x+15,y,s,y%3<1.2?1.6:0.9);}
[[654,'#f5a874','#a06a40'],[755.5,'#a8c8ec','#5a7aa0'],[854.5,'#8dcc4a','#4f8a2a'],[955,'#ff9ccf','#b0608a']].forEach(([x0,f,s])=>{
 col(x0+17,294.8,444,f,s);col(x0+8.5,304.2,453.5,f,s);col(x0,313.6,462.9,f,s);col(x0+45,272.8,422.7,f,s);
 [[38,436.6],[45,428],[51.7,421]].forEach(([dx,y])=>E(g,'circle',{cx:x0+dx,cy:y,r:1.6,fill:'#333'}));
});
})();

/* ---- panel b ---- */
(function(){const g=G('pb');
yt(g,63.5,[567.9,590.8,614.1,637,660.3,683.5,706.8],3,true);
xt(g,714.3,ar(74.4,31.53,7),3,true);
const R=rnd(11);const pts=[];let s=1;
for(let t=0;t<=15.2;t+=0.025){s=-s;let v;
 if(t<3.3) v=(R()-0.5)*0.012+0.002;
 else if(t<3.36) v=0.078; else if(t<3.42) v=-0.066; else if(t<3.5) v=0.05;
 else {let a=0.008+0.02*R(); if(R()<0.07)a=0.034; v=s*a+0.003; if(R()<0.025)v=-0.045; if(t>13.3)v*=0.55;}
 if(Math.abs(t-6.33)<0.015)v=-0.075;
 pts.push([74.4+t*10.51,590.8-v*387.8]);}
E(g,'path',{d:P(pts),fill:'none',stroke:'#2a9af0','stroke-width':0.7});
})();
(function(){const g=G('pbi');const pts=[];
for(let k=0;k<=40;k++){const t=k*0.05;pts.push([143.2+t*46.75,k%2?623.5:686]);}
E(g,'path',{d:P(pts),fill:'none',stroke:'#f05050','stroke-width':0.8});
yt(g,143.2,ar(623.2,10.47,7),1.8,false,'#444');
})();

/* ---- panel c heatmap ---- */
(function(){const g=G('hm'),defs=G('defs');
const X0=312.5,Y0=567.9,Y1=712.4,TP=9.075;
const st=[[3.95,1.0],[4.35,1.3],[4.8,1.1],[5.25,1.2],[5.7,0.9],[6.2,1.0],[6.65,1.3],[7.1,0.8],[7.55,1.1],[8.0,0.9],[8.5,1.2],[9.0,0.8],[9.45,1.0],[9.9,0.9],[10.4,1.1],[10.9,0.8],[11.4,1.0],[11.9,0.9],[12.4,0.7],[12.9,0.8],[13.55,1.3],[18.95,2.0],[19.55,0.6],[1.2,0.2],[2.1,0.25],[15.2,0.25],[16.5,0.2],[17.6,0.25]];
function I(t,f){let v=0.2;
 if(t>3.5&&t<13.75){v+=1.6*(1-0.42*f)+0.5*Math.exp(-Math.pow((t-6)/2.2,2))*(1-f);}
 else if(t>13.75&&t<18.8) v+=0.35;
 st.forEach(([c,a])=>{v+=0.75*a*Math.exp(-Math.pow((t-c)/0.09,2))*(1-0.5*f);});
 v+=Math.exp(-Math.pow((t-3.42)/0.1,2))*(f<0.35?6.2:Math.max(0.6,6.2-(f-0.35)*8.6));
 v+=1.3*Math.exp(-Math.pow((t-6.4)/0.18,2))*Math.exp(-Math.pow((f-0.35)/0.2,2));
 return v;}
function jet(v){v=Math.max(0,Math.min(1,v));const c=x=>Math.round(255*Math.max(0,Math.min(1,1.5-Math.abs(4*v-x))));return 'rgb('+c(3)+','+c(2)+','+c(1)+')';}
for(let i=0;i<189;i++){const t=(i+0.5)/TP;const id='hg'+i;const lg=E(defs,'linearGradient',{id:id,x1:0,y1:0,x2:0,y2:1});
 [0,0.15,0.3,0.45,0.6,0.8,1].forEach(f=>E(lg,'stop',{offset:f,'stop-color':jet(I(t,f)/6.6)}));
 E(g,'rect',{x:X0+i,y:Y0,width:1.2,height:Y1-Y0,fill:'url(#'+id+')'});}
yt(g,312.5,ar(568.8,35.75,5),3,true);
xt(g,712.4,ar(312.5,45.375,5),3,true);
})();

/* ---- panel d ---- */
(function(){const g=G('pd');
yt(g,67,ar(789.7,18.86,9),3,true);xt(g,941.2,ar(75,30.27,7),3,true);
const R=rnd(21);let s=1;const pts=[];
for(let t=0;t<=23.6;t+=0.085){s=-s;let v;
 if(t<3.6) v=(t<0.6?0.0003:-0.0001)+(R()-0.5)*0.0005;
 else if(t<21.8){let a=0.0004+0.0012*R(); if(R()<0.1)a=0.0018; v=s*a+0.0001;}
 else v=(R()-0.5)*0.0003+0.0001;
 pts.push([75+t*7.567,865.15-v*37725]);}
E(g,'path',{d:P(pts),fill:'none',stroke:'#ff3fa8','stroke-width':0.8});
})();
/* ---- panel e ---- */
(function(){const g=G('pe');
yt(g,326.5,ar(788.8,25.3,7),3,true);xt(g,941.2,ar(343.2,33.1,6),3,true);
const R=rnd(31);let s=1;const pts=[];
for(let t=0;t<=25.5;t+=0.085){s=-s;let v;
 if(t<4.6) v=(R()-0.5)*0.0009+0.0001;
 else if(t<20){let a=0.003+0.0045*R(); if(R()<0.1)a=0.0078; v=s*a;}
 else v=-0.0004+(R()-0.5)*0.0009;
 pts.push([343.2+t*6.62,864.7-v*8433]);}
E(g,'path',{d:P(pts),fill:'none',stroke:'#ff3fa8','stroke-width':0.8});
})();

/* ---- panel f ---- */
(function(){const g=G('pf');
function boy(x,y,kind){const b=E(g,'g',{transform:'translate('+x+','+y+')'});const sk='#fccba3',ln='#3a2a20';
 E(b,'path',{d:'M10,88 L10,72 Q12,61 24,58 L42,58 Q56,61 58,73 L58,88 Z',fill:'#f08a3c',stroke:ln,'stroke-width':0.8});
 E(b,'rect',{x:27,y:50,width:12,height:10,fill:sk});
 E(b,'ellipse',{cx:33,cy:27,rx:24,ry:22,fill:'#7a4524',stroke:ln,'stroke-width':0.8});
 E(b,'ellipse',{cx:34,cy:37,rx:19,ry:18.5,fill:sk,stroke:ln,'stroke-width':0.8});
 E(b,'path',{d:'M13,33 Q16,12 33,10 Q52,10 56,30 Q48,20 41,23 Q35,16 29,23 Q22,19 16,31 Z',fill:'#7a4524'});
 E(b,'ellipse',{cx:53,cy:39,rx:4,ry:5,fill:sk,stroke:ln,'stroke-width':0.7});
 E(b,'circle',{cx:27,cy:37,r:1.9,fill:'#222'});E(b,'circle',{cx:40,cy:37,r:1.9,fill:'#222'});
 E(b,'path',{d:kind==='no'?'M29,47 Q33,44 37,47':'M28,45 Q33,50 38,45',fill:kind==='no'?'none':'#8a2a20',stroke:'#5a2a1a','stroke-width':0.8});
 if(kind==='hand')E(b,'path',{d:'M3,86 L1,62 Q1,56 4,58 L6,64 L6,53 Q8,50 10,53 L11,62 L13,53 Q15,51 16,55 L17,64 L19,58 Q21,58 20,63 L18,76 Q16,84 13,88 Z',fill:sk,stroke:ln,'stroke-width':0.7});
 if(kind==='ok')E(b,'path',{d:'M3,86 L2,66 Q1,58 5,58 L7,54 Q9,51 11,55 L12,60 Q16,56 18,61 Q19,66 15,67 L18,76 Q16,84 13,88 Z',fill:sk,stroke:ln,'stroke-width':0.7});
 if(kind==='chest')E(b,'path',{d:'M16,78 Q24,68 38,70 Q42,73 36,76 L24,82 Q18,84 16,78 Z',fill:sk,stroke:ln,'stroke-width':0.7});
}
boy(574,559,'hand');boy(574,681,'no');boy(574,797,'ok');boy(574,917,'chest');boy(574,1038,'hand');boy(574,1167,'none');

const midF=[[695.5,560.3,799,643.3],[696.1,684,801.6,769],[698.7,797.2,801.6,882],[699.4,917,800.6,1002.5],[695.5,1038,801,1121.4],[696.8,1164.4,800.6,1251.4]];
const mids=[
{x0:702.7,xs:13.66,y0:598.3,ys:253.3,end:6.4,bs:[1.0,3.0,5.0],amp:0.12,bw:0.22,col:'#ff3030',seed:31,yt:[560.3,573,585.6,598.3,611,623.6,636.3],n:8},
{x0:703.7,xs:16.3,y0:721,ys:174.8,end:5.3,bs:[0.6,2.6,4.6],amp:0.19,bw:0.15,col:'#10dd10',seed:32,yt:[686.1,703.6,721,738.5,756],n:7},
{x0:707,xs:15.6,y0:838.75,ys:243,end:5.6,bs:[0.7,2.85,5.0],amp:0.15,bw:0.06,col:'#ff8c20',seed:33,yt:[802.3,814.5,826.6,838.75,850.9,863,875.2],n:7},
{x0:707,xs:15.6,y0:960,ys:247.3,end:5.0,bs:[0.8,2.6,4.3],amp:0.12,bw:0.2,col:'#a010d0',seed:34,yt:[922.9,935.3,947.6,960,972.4,984.7,997.1],n:7},
{x0:701,xs:20.1,y0:1079.7,ys:208.5,end:4.8,bs:[0.6,2.6,4.2],amp:0.16,bw:0.1,col:'#1a9cf5',seed:35,yt:[1038,1058.9,1079.7,1100.6,1121.4],n:6},
{x0:706,xs:18.9,y0:1207.3,ys:248.7,end:4.7,bs:[0.5,2.3,4.0],amp:0.12,bw:0.09,col:'#e0d020',seed:36,yt:[1170,1182.4,1194.9,1207.3,1219.7,1232.2,1244.6],n:6}];
mids.forEach((M,i)=>{const F=midF[i];
 E(g,'rect',{x:F[0],y:F[1],width:F[2]-F[0],height:F[3]-F[1],fill:'#fff',stroke:'#666','stroke-width':0.9});
 yt(g,F[0],M.yt,2,true,'#444');xt(g,F[3],ar(M.x0,M.xs,M.n),2,true,'#444');
 const R=rnd(M.seed);let s=1;const pts=[];
 for(let t=0;t<=M.end;t+=0.008){s=-s;let e=0;
  M.bs.forEach(c=>{const d=t-c;e+=d<0?Math.exp(-Math.pow(d/(M.bw*0.6),2)):Math.exp(-Math.pow(d/M.bw,2));
   if(i===2||i===4||i===5)e+=0.5*Math.exp(-Math.pow((d+0.2)/0.05,2));});
  const v=s*(0.004+0.006*R())+s*M.amp*Math.min(e,1.2)*(0.35+0.65*R());
  pts.push([M.x0+t*M.xs,M.y0-v*M.ys]);}
 E(g,'path',{d:P(pts),fill:'none',stroke:M.col,'stroke-width':0.5});
});

const bandC=['#fde3e3','#e2f8e2','#dceffc'];
const rights=[
{F:[855.3,560.3,1042,642],x0:865.2,xs:9.32,y0:638.9,ys:1178,bands:[0,6.5,12.7,18.1],hs:[[0.95,.052],[2.9,.05],[5.0,.047],[7.5,.038],[9.5,.035],[11.8,.04],[13.6,.025],[15.6,.03],[17.4,.027]],w:0.6,type:0,col:'#ff3a3a',gr:'gR',yt:[568.2,585.9,603.5,621.2,638.9],n:10,seed:41},
{F:[855.3,679,1041.2,760.4],x0:861.6,xs:11.96,y0:757.4,ys:1168,bands:[0,5.4,10.2,14.5],hs:[[0.77,.057],[2.56,.055],[4.4,.05],[6.14,.033],[7.66,.035],[9.45,.028],[10.8,.012],[12.34,.013],[13.77,.014]],w:0.45,type:1,col:'#18d018',gr:'gG',yt:[687.3,704.8,722.4,739.9,757.4],n:8,seed:42},
{F:[855.3,798.2,1036.6,882.4],x0:865.2,xs:9.52,y0:875.2,ys:1143,bands:[0,5.8,11.7,17.1],hs:[[0.6,.044],[2.66,.046],[4.67,.042],[6.57,.035],[8.55,.034],[10.35,.034],[12.28,.026],[13.98,.025],[15.88,.022]],w:0.5,type:2,col:'#ff8c28',gr:'gO',yt:[806.6,823.8,840.9,858.1,875.2],n:10,seed:43},
{F:[855.3,917.6,1040.5,999.3],x0:866.8,xs:10.79,y0:995.3,ys:1498,bands:[0,5.1,10.05,15.4],hs:[[0.82,.034],[2.41,.033],[4.12,.034],[5.65,.025],[7.45,.028],[9.28,.023],[10.5,.017],[12.3,.014],[14.26,.014]],w:0.45,type:3,col:'#a818d8',gr:'gP',yt:[927.9,950.4,972.8,995.3],n:9,seed:44},
{F:[854.3,1038.6,1040.5,1121.4],x0:865.2,xs:10.96,y0:1117.6,ys:1511,bands:[0,5.1,9.8,14.4],hs:[[0.75,.026],[2.4,.025],[4.06,.028],[5.68,.02],[7.19,.02],[8.87,.021],[10.29,.017],[12.09,.017],[13.68,.017]],w:0.42,type:1,col:'#2a9df5',gr:'gB',yt:[1049.6,1072.3,1094.9,1117.6],n:9,seed:45},
{F:[854.3,1165.3,1040.5,1248.3],x0:860.3,xs:11.33,y0:1244.6,ys:1180,bands:[0,5.3,10.7,15.9],hs:[[0.64,.048],[2.38,.043],[4.22,.044],[5.96,.034],[7.85,.03],[9.65,.031],[11.4,.02],[13.08,.02],[14.83,.019]],w:0.45,type:1,col:'#e6d82a',gr:'gY',yt:[1173.8,1191.5,1209.2,1226.9,1244.6],n:9,seed:46}];
rights.forEach(Q=>{const F=Q.F;
 E(g,'rect',{x:F[0],y:F[1],width:F[2]-F[0],height:F[3]-F[1],fill:'#fff'});
 for(let k=0;k<3;k++){const xa=Q.x0+Q.bands[k]*Q.xs,xb=Q.x0+Q.bands[k+1]*Q.xs;E(g,'rect',{x:xa,y:F[1],width:xb-xa,height:Q.y0-F[1]+1,fill:bandC[k]});}
 const R=rnd(Q.seed);const pts=[];const end=Q.bands[3];
 for(let t=0;t<=end+0.001;t+=0.025){let v=0;
  Q.hs.forEach(([c,p])=>{const s=(t-c)/Q.w;let h;
   if(Q.type===0)h=Math.exp(-Math.pow(Math.abs(s),3));
   else if(Q.type===1)h=Math.exp(-Math.pow(Math.abs(s),3))*(1-0.22*Math.exp(-Math.pow(s/0.22,2)));
   else if(Q.type===2)h=s<0?Math.exp(-Math.pow(s/0.45,4)):Math.exp(-Math.pow(s/1.0,2))*(1-0.12*Math.sin(s*6));
   else h=Math.exp(-Math.pow(Math.abs(s),5));
   v=Math.max(v,p*h);});
  if(v>0.001)v*=1+(R()-0.5)*0.08;
  pts.push([Q.x0+t*Q.xs,Q.y0-v*Q.ys]);}
 const last=pts[pts.length-1][0];
 E(g,'path',{d:P(pts)+'L'+last+','+Q.y0+'L'+Q.x0+','+Q.y0+'Z',fill:'url(#'+Q.gr+')'});
 E(g,'path',{d:P(pts),fill:'none',stroke:Q.col,'stroke-width':0.9});
 E(g,'rect',{x:F[0],y:F[1],width:F[2]-F[0],height:F[3]-F[1],fill:'none',stroke:'#666','stroke-width':1.1});
 yt(g,F[0],Q.yt,2.5,true,'#444');
 xt(g,F[3],ar(Q.x0,2*Q.xs,Q.n),2.5,true,'#444');
});
})();

/* ---- panel g ---- */
(function(){const g=G('pg');
const S=[
 {c:'#e6d52a',x1:282.8,x2:497.6,base:1084.2,top:1038,seed:6},
 {c:'#1e9cf2',x1:258.4,x2:485.4,base:1104.6,top:1070,seed:5},
 {c:'#a21fd6',x1:231.2,x2:472,base:1128.2,top:1092,seed:4},
 {c:'#f08a3a',x1:200,x2:455.7,base:1154.3,top:1100,seed:3},
 {c:'#22d322',x1:165.2,x2:437.5,base:1184.8,top:1155,seed:2},
 {c:'#f59090',x1:125,x2:418,base:1219.3,top:1158,seed:1}];
S.forEach(s=>{const R=rnd(50+s.seed);const pts=[];let up=false;const H=s.base-s.top;
 for(let x=s.x1;x<=s.x2;x+=1.25){up=!up;let y;
  if(up){y=s.top+R()*H*0.28; if(s.seed===3&&x<205)y=s.top;} else y=s.base-R()*H*0.08;
  pts.push([x,y]);}
 E(g,'path',{d:P(pts),fill:'none',stroke:s.c,'stroke-width':0.8,opacity:0.9});});
L(g,94.3,1112.5,94.3,1238.2,'#000',1.4);L(g,94.3,1238.2,414.8,1238.2,'#000',1.4);
yt(g,94.3,[1112.5,1154.4,1196.3,1238.2],3.5,true);
xt(g,1238.2,ar(103,71.15,5),3.5,true);
})();

/* ---- panel h ---- */
function star(g,cx,cy,r,c){const p=[];for(let k=0;k<10;k++){const a=-Math.PI/2+k*Math.PI/5;const rr=k%2?r*0.45:r;p.push((cx+rr*Math.cos(a)).toFixed(2)+','+(cy+rr*Math.sin(a)).toFixed(2));}E(g,'polygon',{points:p.join(' '),fill:c});}
(function(){const g=G('ph');
const C=[
 ['#ff3a3a',[[63.5,1343.5],[65.6,1349.8],[64,1346],[55.3,1363.9],[58,1366],[59.4,1370],[62.3,1376.5],[61,1379],[63.5,1382.7]]],
 ['#22d322',[[132.4,1337.2],[135.3,1345],[141.4,1349.8],[143.5,1334.7],[134,1340]]],
 ['#f08a3a',[[250,1402.5],[253,1400],[256.2,1396.9],[260.3,1386.8],[275.5,1381.8],[275.5,1393.1],[252,1405]]],
 ['#a21fd6',[[105.8,1389],[109.8,1398.5],[112,1396],[114.8,1403.2],[123,1392.2],[257.5,1395.3]]],
 ['#1e9cf2',[[123,1420.4],[116.9,1427.7],[110.7,1506.9],[113,1503],[120.9,1503.7],[124,1501]]],
 ['#e6d52a',[[171.3,1379.6],[172.2,1390.6],[171,1386],[177.1,1398.5],[183.6,1388],[193.5,1397.5],[190,1395]]]];
C.forEach(([c,ps])=>ps.forEach(p=>star(g,p[0],p[1],5.5,c)));
const l=G('phl');
[['#ff3a3a',1431.5],['#22d322',1449.3],['#f08a3a',1467],['#a21fd6',1484.9],['#1e9cf2',1502.8],['#e6d52a',1520.4]].forEach(([c,y])=>star(l,248,y,6.5,c));
})();

/* ---- panel i ticks ---- */
(function(){const g=G('pi');
yt(g,358.7,ar(1333.1,37.15,6),3.5,false);
xt(g,1537.4,ar(378.1,38.72,6),3.5,false);
ar(1314.5,44.58,6).forEach(y=>L(g,613.6,y,617,y,'#666',0.8));
})();

/* ---- panel j ---- */
(function(){const g=G('pj');
L(g,711,1320.5,711,1535.8,'#000',1.5);L(g,711,1535.8,1065.3,1535.8,'#000',1.5);
const ys=[];for(let v=100;v>=83;v--)ys.push(1320.5+(100-v)*12.67);
ys.forEach((y,i)=>L(g,711,y,i%2===0?706:708,y,'#000',1));
[711,761.5,811.7,862.6,912.9,963.8,1014.1,1065.3].forEach(x=>L(g,x,1535.8,x,1540.5,'#000',1));
[[761.5,1383.5,'#555'],[811.7,1478.6,'#ff8c1a'],[862.6,1363.6,'#2222ee'],[912.9,1459.8,'#1a8a1a'],[963.8,1408.8,'#9a30f0']].forEach(([x,y,c])=>{
 E(g,'circle',{cx:x,cy:y,r:3.8,fill:c});E(g,'circle',{cx:x-1.2,cy:y-1.2,r:1.3,fill:'#fff',opacity:0.6});});
star(g,1014.1,1339.4,8,'#ff1515');
})();
})();
</script>
</body></html>
